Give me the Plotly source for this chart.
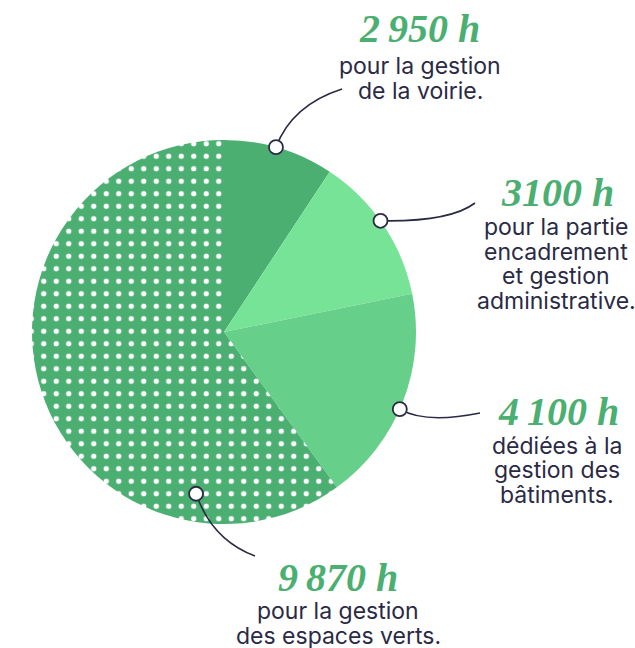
import math
import plotly.graph_objects as go

# ---- data ----
hour_labels = ["2\u2009950 h", "3100 h", "4\u2009100 h", "9\u2009870 h"]
hours = [2950, 3100, 4100, 9870]
# angular size of each slice as drawn in the picture (degrees) - the picture is not proportional
slice_share = [33.4, 45.1, 65.5, 216.0]
descriptions = [
    ["pour la gestion", "de la voirie."],
    ["pour la partie", "encadrement", "et gestion", "administrative."],
    ["dédiées à la", "gestion des", "bâtiments."],
    ["pour la gestion", "des espaces verts."],
]

# ---- style / layout ----
W, H = 635, 648
CX, CY, R = 224, 332, 192
slice_colors = ["#4caf72", "#77e397", "#66cf8a", "#4caf72"]
slice_patterns = ["", "", "", "."]
GREEN = "#4caf72"
NAVY = "#2a2a45"
BODY_FONT = "Inter"
NUM_FONT = "Liberation Serif"

# label anchor positions (pixels)
num_pos = [(419, 29), (557, 192.5), (558, 411), (338, 577)]
body_first = [(420, 66), (556, 227), (557, 446), (338, 611)]
LINE_GAP = 24.5

# marker anchors on the pie: angle (deg clockwise from 12 o'clock) and radius fraction
anchor_deg = [15.7, 54.6, 113.7, 189.8]
anchor_rf = [1.0, 1.0, 1.0, 0.855]
# leader curves: control point and end point (pixels)
leader_ctrl = [(292, 105), (450, 222), (425, 424), (212, 540)]
leader_end = [(342, 89), (475, 203), (480, 413), (255, 556)]


def px(x):
    return x / W


def py(y):
    return 1 - y / H


fig = go.Figure()
fig.add_trace(go.Pie(
    values=slice_share,
    labels=hour_labels,
    customdata=hours,
    sort=False,
    direction="clockwise",
    rotation=0,
    textinfo="none",
    hoverinfo="skip",
    marker=dict(
        colors=slice_colors,
        line=dict(width=0),
        pattern=dict(shape=slice_patterns,
                     fgcolor=["white"] * 4,
                     bgcolor=slice_colors,
                     size=[12.5] * 4,
                     solidity=[0.14] * 4,
                     fillmode="replace"),
    ),
    domain=dict(x=[px(CX - R), px(CX + R)], y=[py(CY + R), py(CY - R)]),
    showlegend=False,
))

shapes = []
annotations = []
for i in range(4):
    a = math.radians(anchor_deg[i])
    mx = CX + R * anchor_rf[i] * math.sin(a)
    my = CY - R * anchor_rf[i] * math.cos(a)
    qx, qy = leader_ctrl[i]
    ex, ey = leader_end[i]
    path = f"M {px(mx)},{py(my)} Q {px(qx)},{py(qy)} {px(ex)},{py(ey)}"
    shapes.append(dict(type="path", xref="paper", yref="paper", path=path,
                       line=dict(color=NAVY, width=1.6)))
for i in range(4):
    a = math.radians(anchor_deg[i])
    mx = CX + R * anchor_rf[i] * math.sin(a)
    my = CY - R * anchor_rf[i] * math.cos(a)
    r = 7
    shapes.append(dict(type="circle", xref="paper", yref="paper",
                       x0=px(mx - r), x1=px(mx + r), y0=py(my + r), y1=py(my - r),
                       fillcolor="white", line=dict(color=NAVY, width=1.8)))

    nx, ny = num_pos[i]
    annotations.append(dict(x=px(nx), y=py(ny), xref="paper", yref="paper",
                            text=hour_labels[i], showarrow=False,
                            xanchor="center", yanchor="middle",
                            font=dict(family=NUM_FONT, size=40, color=GREEN,
                                      weight="bold", style="italic")))
    bx, by = body_first[i]
    for j, line in enumerate(descriptions[i]):
        annotations.append(dict(x=px(bx), y=py(by + j * LINE_GAP), xref="paper", yref="paper",
                                text=line, showarrow=False,
                                xanchor="center", yanchor="middle",
                                font=dict(family=BODY_FONT, size=23, color=NAVY)))

fig.update_layout(
    width=W, height=H,
    margin=dict(l=0, r=0, t=0, b=0),
    paper_bgcolor="white", plot_bgcolor="white",
    shapes=shapes, annotations=annotations,
    showlegend=False,
)

fig.write_html("out.html", config={"displayModeBar": False},
               post_script="document.body.style.margin='0';document.body.style.overflow='hidden';")
